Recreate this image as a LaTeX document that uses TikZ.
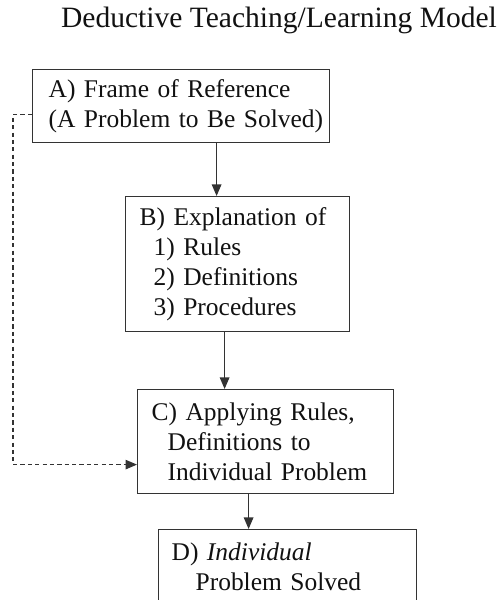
\documentclass[tikz,border=0pt]{standalone}
\usepackage{fontspec}
\setmainfont{Liberation Serif}
\usepackage{xcolor}
\usepackage{tikz}
\usetikzlibrary{arrows.meta,calc}
\definecolor{dkline}{HTML}{333333}
\definecolor{dktext}{HTML}{111111}
\tikzset{
  >={Triangle[length=2.3mm,width=1.9mm]},
  dtitle/.style={font=\fontsize{16.8}{19}\selectfont,text=dktext},
  stage/.style={draw=dkline,line width=.7pt,anchor=north west,align=left,
    font=\fontsize{14.5}{17}\selectfont,text=dktext,inner ysep=2pt},
  flow/.style={->,draw=dkline,line width=.7pt},
  loopback/.style={->,draw=dkline,line width=.7pt,dash pattern=on 2.4pt off 1.8pt}
}
\begin{document}
\begin{tikzpicture}[x=1cm,y=1cm]
  \clip (0,0) rectangle (10,12);
  \node[dtitle,anchor=base] (title) at (5.58,11.44) {Deductive Teaching/Learning Model};

  \node[stage,inner xsep=.32cm,text width=5.30cm,minimum width=5.94cm,minimum height=1.46cm]
    (frame) at (.64,10.62)
    {\mbox{A) Frame of Reference}\\\mbox{(A Problem to Be Solved)}};
  \node[stage,inner xsep=.28cm,text width=3.92cm,minimum width=4.48cm,minimum height=2.70cm]
    (explain) at (2.50,8.08)
    {\mbox{B) Explanation of}\\\hspace*{.28cm}1) Rules\\\hspace*{.28cm}2) Definitions\\\hspace*{.28cm}3) Procedures};
  \node[stage,inner xsep=.28cm,text width=4.56cm,minimum width=5.12cm,minimum height=2.08cm]
    (apply) at (2.74,4.22)
    {\mbox{C) Applying Rules,}\\\hspace*{.32cm}\mbox{Definitions to}\\\hspace*{.32cm}\mbox{Individual Problem}};
  \node[stage,inner xsep=.26cm,text width=4.64cm,minimum width=5.16cm,minimum height=1.50cm]
    (solved) at (3.16,1.42)
    {\mbox{D) \textit{Individual}}\\\hspace*{.48cm}\mbox{Problem Solved}};

  % main chain
  \draw[flow] ([xshift=.71cm]frame.south) -- ([xshift=.71cm]frame.south |- explain.north);
  \draw[flow] ([xshift=-.26cm]explain.south) -- ([xshift=-.26cm]explain.south |- apply.north);
  \draw[flow] ([xshift=-.34cm]apply.south) -- ([xshift=-.34cm]apply.south |- solved.north);
  % shortcut from A to C
  \draw[loopback] ([yshift=-.17cm]frame.west) -- ++(-.38,0) |- ([yshift=-.46cm]apply.west);
\end{tikzpicture}
\end{document}
